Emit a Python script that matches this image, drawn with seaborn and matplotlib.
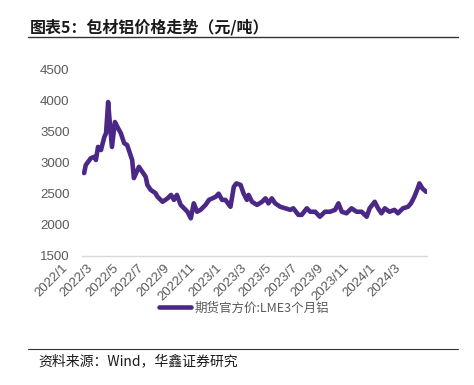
import pandas as pd
import seaborn as sns
import matplotlib.pyplot as plt
import matplotlib.dates as mdates
import matplotlib.transforms as mtransforms
from matplotlib.lines import Line2D

# Data (LME 3-month aluminium, yuan/ton)
dates = ['2022-01-06', '2022-01-10', '2022-01-22', '2022-01-30', '2022-02-03', '2022-02-08',
         '2022-02-15', '2022-02-23', '2022-02-27', '2022-03-04', '2022-03-08', '2022-03-13',
         '2022-03-20', '2022-03-26', '2022-04-03', '2022-04-11', '2022-04-18', '2022-04-30',
         '2022-05-04', '2022-05-16', '2022-05-24', '2022-06-01', '2022-06-05', '2022-06-13',
         '2022-06-24', '2022-06-29', '2022-07-11', '2022-07-23', '2022-07-31', '2022-08-07',
         '2022-08-14', '2022-08-23', '2022-08-31', '2022-09-08', '2022-09-16', '2022-09-23',
         '2022-10-01', '2022-10-09', '2022-10-21', '2022-10-29', '2022-11-06', '2022-11-14',
         '2022-11-21', '2022-11-29', '2022-12-07', '2022-12-19', '2022-12-27', '2023-01-02',
         '2023-01-12', '2023-01-19', '2023-01-27', '2023-01-31', '2023-02-08', '2023-02-20',
         '2023-03-04', '2023-03-12', '2023-03-19', '2023-03-27', '2023-04-04', '2023-04-16',
         '2023-04-28', '2023-05-10', '2023-05-17', '2023-05-29', '2023-06-06', '2023-06-18',
         '2023-06-26', '2023-07-08', '2023-07-19', '2023-07-31', '2023-08-12', '2023-08-24',
         '2023-09-01', '2023-09-09', '2023-09-20', '2023-10-02', '2023-10-14', '2023-10-26',
         '2023-11-07', '2023-11-14', '2023-11-26', '2023-12-04', '2023-12-12', '2023-12-20',
         '2023-12-31', '2024-01-12', '2024-01-20', '2024-02-01', '2024-02-13', '2024-02-20',
         '2024-02-28', '2024-03-07', '2024-03-11', '2024-03-18', '2024-03-27']
prices = [2830, 2960, 3070, 3090, 3040, 3250,
          3200, 3410, 3470, 3970, 3630, 3250,
          3650, 3570, 3470, 3310, 3280, 3040,
          2750, 2930, 2850, 2770, 2640, 2560,
          2510, 2450, 2370, 2425, 2480, 2400,
          2480, 2320, 2265, 2210, 2105, 2345,
          2210, 2240, 2320, 2400, 2425, 2450,
          2500, 2400, 2400, 2290, 2610, 2665,
          2640, 2505, 2400, 2480, 2370, 2320,
          2370, 2425, 2345, 2425, 2345, 2290,
          2265, 2240, 2265, 2160, 2160, 2265,
          2210, 2210, 2130, 2210, 2210, 2240,
          2345, 2210, 2185, 2265, 2210, 2210,
          2130, 2265, 2370, 2265, 2185, 2265,
          2210, 2240, 2185, 2265, 2290, 2345,
          2450, 2585, 2665, 2585, 2530]
series_name = '期货官方价:LME3个月铝'
y_ticks = [1500, 2000, 2500, 3000, 3500, 4000, 4500]

df = pd.DataFrame({'date': pd.to_datetime(dates), 'price': prices})

sns.set_theme(style='white')
plt.rcParams['font.family'] = ['Noto Sans CJK SC', 'DejaVu Sans']

fig = plt.figure(figsize=(4.74, 3.85), dpi=100)
ax = fig.add_axes([82 / 474, 1 - 256 / 385, (427 - 82) / 474, (256 - 69) / 385])

sns.lineplot(data=df, x='date', y='price', ax=ax, color='#4b2886', linewidth=3.3,
             label=series_name)

ax.set_ylim(1500, 4500)
ax.set_yticks(y_ticks)
ax.set_xlim(pd.Timestamp('2022-01-01'), pd.Timestamp('2024-03-29'))
ax.xaxis.set_major_locator(mdates.MonthLocator(bymonth=[1, 3, 5, 7, 9, 11]))
ax.xaxis.set_major_formatter(plt.FuncFormatter(
    lambda v, pos: f"{mdates.num2date(v).year}/{mdates.num2date(v).month}"))
ax.set_xlabel('')
ax.set_ylabel('')

for s in ['top', 'right', 'left']:
    ax.spines[s].set_visible(False)
ax.spines['bottom'].set_color('#d9d9d9')
ax.spines['bottom'].set_linewidth(1.0)
ax.tick_params(axis='both', length=0, colors='#595959', labelsize=9.5)
ax.tick_params(axis='y', pad=9)
ax.tick_params(axis='x', pad=4)

# rotated date labels, shifted left like the reference
offset = mtransforms.ScaledTranslation(-12 / 100, 0, fig.dpi_scale_trans)
for lab in ax.get_xticklabels():
    lab.set_rotation(45)
    lab.set_ha('right')
    lab.set_family('Liberation Sans')
    lab.set_transform(lab.get_transform() + offset)
for lab in ax.get_yticklabels():
    lab.set_family('Liberation Sans')

leg = ax.legend(loc='center', bbox_to_anchor=(0.515, 0.2), bbox_transform=fig.transFigure,
                frameon=False, fontsize=9, handlelength=2.6, handletextpad=0.3)
for t in leg.get_texts():
    t.set_color('#595959')

# title and source
fig.text(30 / 474, 1 - 27 / 385, '图表5：包材铝价格走势（元/吨）', fontsize=11.5,
         fontweight='bold', color='#1a1a1a', va='center', ha='left')
fig.add_artist(Line2D([28 / 474, 458 / 474], [1 - 37 / 385, 1 - 37 / 385],
                      color='#333333', linewidth=1.0))
fig.add_artist(Line2D([28 / 474, 458 / 474], [1 - 349 / 385, 1 - 349 / 385],
                      color='#333333', linewidth=0.8))
fig.text(38 / 474, 1 - 361 / 385, '资料来源：Wind，华鑫证券研究', fontsize=10,
         color='#1a1a1a', va='center', ha='left')

fig.savefig('out.png', dpi=100)
